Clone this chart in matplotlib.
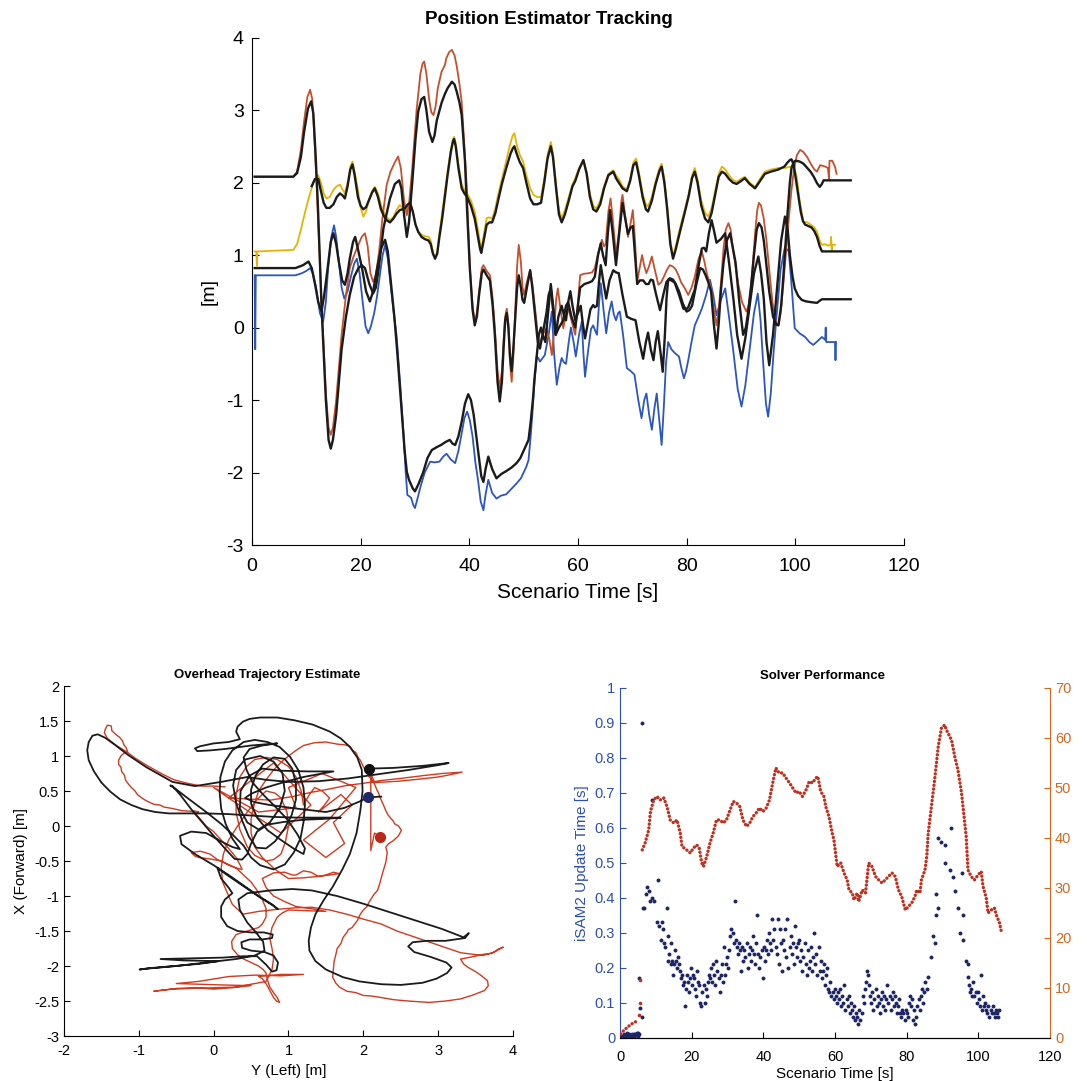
import numpy as np
import matplotlib
matplotlib.use("Agg")
import matplotlib.pyplot as plt

plt.rcParams["font.family"] = ["Liberation Sans", "DejaVu Sans"]
plt.rcParams["axes.unicode_minus"] = False

# ---------------- top panel: position tracking (t [s], value [m]) ----------------
truth_a = [(0.5, 2.08), (7.6, 2.08), (8.3, 2.15), (9.0, 2.45), (9.6, 2.85), (10.2, 3.18), (10.7, 3.28),
           (11.1, 3.15), (11.5, 2.6), (11.9, 1.97), (12.8, 0.36), (13.6, -0.9), (14.1, -1.38), (14.5, -1.48),
           (14.9, -1.38), (15.5, -1.0), (16.5, -0.10), (17.3, 0.45), (18.0, 0.82), (18.7, 0.98), (19.3, 1.09),
           (20.2, 1.25), (20.8, 1.30), (21.3, 1.12), (21.8, 0.75), (22.3, 0.63), (22.8, 0.72), (23.4, 1.05),
           (24.0, 1.5), (24.8, 1.97), (25.5, 2.15), (26.3, 2.28), (26.9, 2.36), (27.4, 2.2), (28.0, 1.75),
           (28.5, 1.55), (28.9, 1.7), (29.5, 2.2), (30.3, 3.0), (31.0, 3.5), (31.4, 3.64), (31.7, 3.67),
           (32.1, 3.5), (32.6, 3.15), (33.0, 2.97), (33.4, 2.93), (33.8, 3.05), (34.2, 3.3), (34.9, 3.53),
           (35.5, 3.62), (35.8, 3.72), (36.3, 3.8), (36.8, 3.83), (37.3, 3.75), (37.7, 3.6), (38.2, 3.35),
           (38.6, 3.11), (39.1, 2.5), (39.5, 1.97), (40.1, 0.82), (40.6, 0.3), (41.0, 0.08), (41.4, 0.2),
           (41.8, 0.5), (42.3, 0.82), (42.6, 0.86), (43.2, 0.78), (43.8, 0.72), (44.3, 0.4), (44.7, 0.0),
           (45.2, -0.6), (45.6, -0.84), (46.0, -0.6), (46.3, -0.2), (46.6, 0.15), (46.9, 0.26), (47.2, 0.05),
           (47.5, -0.5), (47.8, -0.75), (48.1, -0.4), (48.5, 0.3), (48.8, 0.85), (49.1, 1.14), (49.5, 0.9),
           (49.8, 0.55), (50.1, 0.45), (50.5, 0.6), (51.2, 0.79), (51.6, 0.6), (52.2, 0.2), (52.6, -0.1),
           (53.0, -0.24), (53.5, -0.1), (54.2, -0.01), (54.7, -0.15), (55.2, -0.38), (55.6, -0.05), (56.0, 0.4),
           (56.3, 0.54), (56.7, 0.3), (57.3, -0.01), (57.7, 0.15), (58.2, 0.26), (58.8, 0.1), (59.5, -0.10),
           (60.0, 0.35), (60.4, 0.72), (61.0, 0.74), (62.0, 0.75), (62.6, 0.76), (63.1, 0.82), (63.8, 1.05),
           (64.4, 1.21), (64.8, 1.12), (65.1, 1.15), (65.6, 1.6), (66.0, 1.78), (66.4, 1.5), (67.0, 1.00),
           (67.5, 1.3), (68.0, 1.75), (68.2, 1.83), (68.6, 1.6), (69.2, 1.25), (69.6, 1.4), (70.1, 1.62),
           (70.5, 1.2), (70.9, 0.63), (71.3, 0.8), (71.8, 1.0), (72.2, 0.85), (72.6, 0.75), (73.1, 0.85),
           (73.6, 0.98), (74.2, 0.78), (74.8, 0.59), (75.3, 0.62), (75.8, 0.7), (76.4, 0.8), (76.9, 0.86),
           (77.5, 0.84), (78.0, 0.8), (78.5, 0.72), (79.0, 0.62), (79.6, 0.55), (80.3, 0.45), (80.9, 0.55),
           (81.5, 0.7), (82.2, 0.95), (82.8, 1.05), (83.3, 0.9), (83.7, 0.75), (84.1, 0.65), (84.5, 0.55),
           (85.0, 0.25), (85.5, 0.03), (85.9, 0.25), (86.3, 0.6), (86.8, 1.09), (87.2, 1.35), (87.7, 1.44),
           (88.1, 1.35), (88.5, 1.1), (89.0, 0.85), (89.5, 0.6), (90.2, 0.35), (91.0, 0.22), (91.4, 0.3),
           (91.8, 0.5), (92.2, 0.9), (92.6, 1.3), (93.0, 1.62), (93.3, 1.72), (93.7, 1.68), (94.2, 1.5),
           (94.7, 1.2), (95.2, 0.8), (95.8, 0.35), (96.4, 0.08), (96.9, 0.03), (97.3, 0.2), (97.8, 0.6),
           (98.3, 1.05), (98.8, 1.5), (99.3, 1.9), (99.8, 2.2), (100.3, 2.38), (100.9, 2.45), (101.5, 2.42),
           (102.2, 2.35), (103.0, 2.24), (103.5, 2.18), (104.0, 2.15), (104.3, 2.2), (104.6, 2.24),
           (105.5, 2.22), (106.0, 2.2), (106.2, 2.05), (106.3, 2.3), (106.8, 2.3), (107.3, 2.22), (107.6, 2.12)]
est_a = [(0.5, 2.08), (7.6, 2.08), (8.3, 2.13), (9.0, 2.35), (9.6, 2.7), (10.3, 3.02), (10.9, 3.12),
         (11.3, 2.95), (11.7, 2.4), (12.1, 1.75), (12.8, 0.3), (13.6, -1.0), (14.1, -1.55), (14.5, -1.67),
         (14.9, -1.55), (15.5, -1.2), (16.5, -0.3), (17.3, 0.15), (18.0, 0.45), (18.8, 0.7), (19.6, 0.82),
         (20.2, 0.86), (20.8, 0.82), (21.6, 0.6), (22.3, 0.47), (22.8, 0.55), (23.3, 0.8), (24.2, 1.37),
         (25.4, 1.78), (26.3, 1.98), (27.1, 2.03), (27.5, 1.92), (28.0, 1.55), (28.5, 1.25), (28.9, 1.45),
         (29.5, 2.0), (30.1, 2.6), (30.6, 2.98), (31.2, 3.15), (31.7, 3.18), (32.1, 3.0), (32.6, 2.7),
         (33.2, 2.56), (33.6, 2.65), (34.0, 2.85), (34.9, 3.1), (35.5, 3.22), (36.0, 3.3), (36.8, 3.39),
         (37.3, 3.35), (37.7, 3.25), (38.2, 3.1), (38.6, 2.93), (39.2, 2.3), (39.6, 1.6), (40.1, 0.82),
         (40.6, 0.25), (41.0, 0.03), (41.4, 0.15), (41.8, 0.45), (42.3, 0.75), (42.6, 0.8), (43.2, 0.72),
         (43.8, 0.65), (44.3, 0.3), (44.7, -0.1), (45.2, -0.75), (45.6, -1.02), (46.0, -0.75), (46.3, -0.3),
         (46.6, 0.1), (46.9, 0.2), (47.2, 0.0), (47.5, -0.4), (47.8, -0.6), (48.1, -0.3), (48.5, 0.2),
         (48.8, 0.55), (49.1, 0.72), (49.5, 0.55), (49.8, 0.38), (50.1, 0.34), (50.6, 0.55), (51.2, 0.79),
         (51.6, 0.55), (52.2, 0.1), (52.6, -0.2), (53.0, -0.29), (53.6, -0.05), (54.2, 0.2), (54.6, 0.45),
         (55.0, 0.54), (55.4, 0.25), (55.9, -0.1), (56.5, 0.0), (57.3, 0.1), (57.8, 0.3), (58.2, 0.35),
         (58.8, 0.15), (59.5, 0.0), (60.0, 0.3), (60.4, 0.55), (61.2, 0.6), (62.0, 0.62), (62.6, 0.64),
         (63.1, 0.7), (63.7, 1.0), (64.2, 1.16), (64.6, 1.0), (65.1, 0.86), (65.5, 1.3), (65.9, 1.62),
         (66.4, 1.3), (67.0, 0.86), (67.6, 1.3), (68.2, 1.72), (68.7, 1.5), (69.2, 1.29), (69.7, 1.38),
         (70.1, 1.4), (70.5, 1.0), (70.9, 0.6), (71.4, 0.65), (72.0, 0.65), (72.5, 0.6), (73.0, 0.6),
         (73.4, 0.66), (73.8, 0.65), (74.4, 0.45), (75.1, 0.24), (75.7, 0.45), (76.3, 0.63), (76.9, 0.68),
         (77.5, 0.66), (78.0, 0.6), (78.6, 0.5), (79.3, 0.33), (80.0, 0.22), (80.5, 0.24), (81.0, 0.3),
         (81.8, 0.6), (82.5, 0.82), (83.0, 0.8), (83.5, 0.72), (84.0, 0.62), (84.5, 0.5), (85.0, 0.05),
         (85.5, -0.29), (85.9, 0.05), (86.3, 0.5), (86.8, 0.9), (87.4, 1.2), (88.0, 1.30), (88.5, 1.1),
         (89.0, 0.9), (89.7, 0.35), (90.4, -0.10), (90.9, 0.0), (91.3, 0.2), (91.9, 0.6), (92.4, 1.0),
         (92.9, 1.35), (93.3, 1.44), (93.8, 1.38), (94.2, 1.2), (94.7, 0.85), (95.2, 0.5), (95.9, 0.15),
         (96.5, 0.04), (96.9, 0.03), (97.4, 0.3), (97.8, 0.7), (98.2, 1.15), (98.6, 1.6), (99.0, 2.0),
         (99.3, 2.2), (99.7, 2.28), (100.0, 2.3), (100.8, 2.29), (101.5, 2.26), (102.2, 2.2), (102.8, 2.15),
         (103.4, 2.08), (104.0, 1.99), (104.5, 1.94), (104.9, 1.98), (105.2, 2.03), (110.2, 2.03)]

truth_b = [(0.5, 1.05), (0.8, 1.05), (0.9, 0.85), (1.0, 1.05), (7.6, 1.07), (8.3, 1.15), (9.0, 1.35),
           (9.8, 1.6), (10.5, 1.8), (11.3, 2.0), (12.2, 2.10), (12.7, 2.0), (13.2, 1.85), (13.7, 1.78),
           (14.3, 1.8), (15.0, 1.9), (15.6, 1.95), (16.2, 1.97), (16.7, 1.9), (17.1, 1.85), (17.6, 2.0),
           (18.1, 2.22), (18.5, 2.29), (18.9, 2.15), (19.5, 1.9), (20.0, 1.65), (20.5, 1.53), (21.0, 1.6),
           (21.5, 1.75), (22.1, 1.88), (22.6, 1.94), (23.2, 1.85), (23.7, 1.7), (24.2, 1.60), (24.8, 1.52),
           (25.4, 1.48), (26.0, 1.52), (26.6, 1.62), (27.2, 1.69), (27.7, 1.65), (28.2, 1.6), (28.7, 1.68),
           (29.1, 1.74), (29.6, 1.6), (30.1, 1.42), (30.6, 1.32), (31.2, 1.28), (31.8, 1.26), (32.5, 1.25),
           (32.9, 1.2), (33.3, 1.05), (33.7, 0.95), (34.1, 1.05), (34.5, 1.3), (35.0, 1.58), (35.5, 1.87),
           (36.0, 2.15), (36.6, 2.45), (37.0, 2.6), (37.2, 2.63), (37.5, 2.55), (38.0, 2.25), (38.6, 1.97),
           (39.1, 1.9), (39.6, 1.85), (40.3, 1.75), (41.0, 1.60), (41.6, 1.35), (42.0, 1.15), (42.2, 1.09),
           (42.6, 1.25), (43.2, 1.51), (43.7, 1.52), (44.2, 1.5), (44.8, 1.65), (45.3, 1.83), (46.0, 2.05),
           (46.8, 2.3), (47.6, 2.55), (48.0, 2.65), (48.3, 2.68), (48.8, 2.5), (49.3, 2.38), (49.9, 2.29),
           (50.5, 2.1), (51.2, 1.92), (51.8, 1.83), (52.5, 1.8), (53.2, 1.8), (53.8, 2.05), (54.4, 2.38),
           (55.0, 2.56), (55.4, 2.4), (56.0, 1.95), (56.5, 1.62), (57.0, 1.51), (57.6, 1.62), (58.3, 1.8),
           (59.0, 1.98), (59.5, 2.06), (60.2, 2.2), (61.0, 2.31), (61.6, 2.15), (62.2, 1.85), (62.8, 1.68),
           (63.4, 1.64), (64.1, 1.75), (64.8, 1.95), (65.6, 2.12), (66.5, 2.17), (67.0, 2.1), (67.5, 2.05),
           (68.2, 1.95), (69.0, 1.90), (69.6, 2.05), (70.2, 2.28), (70.7, 2.33), (71.2, 2.15), (71.9, 1.85),
           (72.5, 1.7), (72.9, 1.67), (73.6, 1.8), (74.3, 2.02), (75.0, 2.2), (75.4, 2.26), (75.9, 2.05),
           (76.4, 1.7), (77.0, 1.2), (77.5, 0.98), (78.0, 1.12), (78.8, 1.38), (79.7, 1.64), (80.4, 1.85),
           (81.0, 2.1), (81.5, 2.20), (82.0, 2.05), (82.7, 1.75), (83.4, 1.58), (84.0, 1.53), (84.6, 1.65),
           (85.3, 1.9), (85.9, 2.12), (86.5, 2.22), (87.1, 2.18), (87.8, 2.1), (88.5, 2.04), (89.2, 2.01),
           (90.0, 2.05), (90.7, 2.08), (91.6, 2.0), (92.6, 1.94), (93.5, 2.05), (94.4, 2.15), (95.5, 2.18),
           (96.9, 2.20), (98.0, 2.2), (99.3, 2.22), (99.9, 2.18), (100.3, 2.06), (100.8, 1.75), (101.5, 1.46),
           (102.2, 1.45), (103.0, 1.41), (103.5, 1.38), (104.0, 1.32), (104.5, 1.2), (104.9, 1.14),
           (105.5, 1.15), (106.0, 1.13), (106.5, 1.14), (106.6, 1.25), (106.7, 1.05), (106.8, 1.14),
           (107.3, 1.14)]
est_b = [(11.0, 1.95), (11.6, 2.05), (12.2, 2.05), (12.7, 1.88), (13.2, 1.72), (13.7, 1.65), (14.3, 1.65),
         (15.0, 1.7), (15.6, 1.8), (16.2, 1.85), (16.7, 1.82), (17.1, 1.78), (17.6, 1.95), (18.1, 2.18),
         (18.5, 2.25), (18.9, 2.1), (19.5, 1.8), (20.0, 1.68), (20.5, 1.63), (21.0, 1.66), (21.5, 1.75),
         (22.1, 1.86), (22.6, 1.92), (23.2, 1.8), (23.7, 1.64), (24.2, 1.55), (24.8, 1.48), (25.4, 1.45),
         (26.0, 1.5), (26.6, 1.57), (27.2, 1.62), (27.7, 1.63), (28.2, 1.65), (28.7, 1.7), (29.1, 1.72),
         (29.6, 1.6), (30.1, 1.42), (30.6, 1.32), (31.2, 1.25), (31.8, 1.22), (32.5, 1.2), (32.9, 1.15),
         (33.3, 1.02), (33.7, 0.95), (34.1, 1.02), (34.5, 1.25), (35.0, 1.5), (35.5, 1.8), (36.0, 2.1),
         (36.6, 2.42), (37.0, 2.57), (37.2, 2.6), (37.5, 2.5), (38.0, 2.2), (38.6, 1.92), (39.1, 1.85),
         (39.6, 1.8), (40.3, 1.68), (41.0, 1.5), (41.6, 1.25), (42.0, 1.08), (42.2, 1.03), (42.6, 1.18),
         (43.2, 1.42), (43.7, 1.45), (44.2, 1.45), (44.8, 1.58), (45.3, 1.75), (46.0, 1.98), (46.8, 2.2),
         (47.6, 2.4), (48.0, 2.47), (48.3, 2.5), (48.8, 2.38), (49.3, 2.28), (49.9, 2.2), (50.5, 2.0),
         (51.2, 1.78), (51.8, 1.7), (52.5, 1.7), (53.2, 1.72), (53.8, 2.0), (54.4, 2.33), (55.0, 2.5),
         (55.4, 2.35), (56.0, 1.9), (56.5, 1.56), (57.0, 1.45), (57.6, 1.56), (58.3, 1.75), (59.0, 1.95),
         (59.5, 2.02), (60.2, 2.18), (61.0, 2.31), (61.6, 2.12), (62.2, 1.8), (62.8, 1.63), (63.4, 1.6),
         (64.1, 1.7), (64.8, 1.92), (65.6, 2.1), (66.5, 2.15), (67.0, 2.06), (67.5, 2.0), (68.2, 1.92),
         (69.0, 1.88), (69.6, 2.02), (70.2, 2.24), (70.7, 2.28), (71.2, 2.1), (71.9, 1.8), (72.5, 1.63),
         (72.9, 1.6), (73.6, 1.75), (74.3, 1.98), (75.0, 2.16), (75.4, 2.22), (75.9, 2.0), (76.4, 1.65),
         (77.0, 1.15), (77.5, 0.95), (78.0, 1.08), (78.8, 1.33), (79.7, 1.6), (80.4, 1.82), (81.0, 2.06),
         (81.5, 2.15), (82.0, 2.0), (82.7, 1.68), (83.4, 1.5), (84.0, 1.45), (84.6, 1.58), (85.3, 1.85),
         (85.9, 2.08), (86.5, 2.15), (87.1, 2.12), (87.8, 2.05), (88.5, 2.0), (89.2, 1.98), (90.0, 2.02),
         (90.7, 2.06), (91.6, 1.98), (92.6, 1.92), (93.5, 2.02), (94.4, 2.12), (95.5, 2.15), (96.9, 2.18),
         (98.0, 2.22), (98.5, 2.27), (99.0, 2.31), (99.3, 2.32), (99.7, 2.25), (100.0, 2.1), (100.5, 1.85),
         (101.0, 1.6), (101.4, 1.47), (101.8, 1.42), (102.4, 1.4), (103.0, 1.38), (103.5, 1.33),
         (104.0, 1.25), (104.5, 1.12), (104.9, 1.05), (110.2, 1.05)]

truth_c = [(0.5, 0.72), (0.6, -0.3), (0.7, 0.72), (8.0, 0.72), (9.2, 0.75), (10.0, 0.78), (10.7, 0.82),
           (11.2, 0.75), (11.8, 0.55), (12.5, 0.2), (13.1, 0.08), (13.6, 0.35), (14.0, 0.8), (14.6, 1.25),
           (15.1, 1.41), (15.5, 1.25), (16.0, 0.9), (16.5, 0.55), (17.0, 0.40), (17.6, 0.5), (18.2, 0.7),
           (18.8, 0.88), (19.3, 0.95), (19.8, 0.75), (20.3, 0.4), (20.9, 0.02), (21.4, -0.08), (21.9, 0.02),
           (22.5, 0.2), (23.0, 0.42), (23.5, 0.7), (24.0, 0.98), (24.5, 1.14), (25.0, 0.95), (25.5, 0.6),
           (26.1, 0.2), (26.6, -0.10), (27.3, -0.8), (27.9, -1.48), (28.3, -2.0), (28.6, -2.31), (29.0, -2.33),
           (29.3, -2.35), (29.7, -2.45), (30.0, -2.49), (30.5, -2.35), (31.0, -2.2), (31.8, -2.0),
           (32.8, -1.85), (33.6, -1.86), (34.5, -1.85), (35.2, -1.78), (35.8, -1.74), (36.6, -1.82),
           (37.4, -1.87), (38.0, -1.7), (38.5, -1.5), (39.1, -1.25), (39.6, -1.16), (40.1, -1.28),
           (40.6, -1.5), (41.1, -1.85), (41.6, -2.1), (42.1, -2.4), (42.6, -2.52), (43.0, -2.3), (43.5, -2.10),
           (44.2, -2.28), (45.0, -2.36), (45.8, -2.32), (46.8, -2.3), (47.8, -2.22), (48.7, -2.15),
           (49.5, -2.08), (50.0, -2.0), (50.5, -1.92), (50.9, -1.83), (51.3, -1.5), (51.6, -1.2), (52.0, -0.75),
           (52.4, -0.40), (52.7, -0.42), (53.0, -0.47), (53.5, -0.42), (53.9, -0.38), (54.6, -0.1), (55.2, 0.22),
           (55.6, -0.35), (56.1, -0.79), (56.6, -0.55), (57.0, -0.42), (57.4, -0.48), (57.8, -0.5), (58.3, -0.2),
           (58.7, 0.0), (59.2, -0.2), (59.6, -0.4), (60.2, -0.1), (60.7, 0.08), (61.0, -0.35), (61.3, -0.68),
           (61.9, -0.3), (62.4, -0.02), (62.8, 0.03), (63.2, -0.05), (63.5, -0.1), (63.9, 0.35), (64.2, 0.61),
           (64.7, 0.25), (65.2, -0.08), (65.7, 0.2), (66.2, 0.36), (66.6, 0.18), (67.0, 0.1), (67.4, 0.2),
           (67.7, 0.22), (68.3, -0.1), (69.0, -0.56), (69.7, -0.6), (70.4, -0.65), (71.1, -1.0), (71.7, -1.25),
           (72.2, -1.0), (72.6, -0.91), (73.1, -1.2), (73.6, -1.41), (74.1, -1.1), (74.5, -0.91), (75.0, -1.3),
           (75.4, -1.62), (75.8, -1.1), (76.2, -0.5), (76.6, -0.20), (77.2, -0.3), (77.8, -0.35), (78.6, -0.4),
           (79.0, -0.55), (79.5, -0.70), (79.9, -0.6), (80.3, -0.45), (80.9, -0.2), (81.5, 0.03), (82.2, 0.15),
           (82.8, 0.26), (83.6, 0.45), (84.3, 0.66), (84.9, 0.45), (85.5, 0.17), (86.3, 0.38), (87.1, 0.54),
           (87.8, 0.15), (88.6, -0.33), (89.4, -0.85), (90.1, -1.09), (90.8, -0.8), (91.6, -0.3), (92.4, 0.2),
           (93.1, 0.47), (93.6, 0.1), (94.1, -0.5), (94.6, -1.05), (95.0, -1.23), (95.5, -0.9), (96.0, -0.35),
           (96.6, 0.2), (97.3, 0.8), (98.1, 1.11), (98.8, 1.05), (99.3, 0.6), (99.9, -0.01), (100.8, -0.08),
           (101.8, -0.13), (102.6, -0.2), (103.3, -0.24), (104.2, -0.18), (104.9, -0.13), (105.5, -0.17),
           (105.6, 0.0), (105.7, -0.2), (106.5, -0.2), (107.3, -0.2), (107.4, -0.45), (107.5, -0.2)]
est_c = [(0.5, 0.82), (8.0, 0.82), (9.4, 0.86), (10.4, 0.91), (11.0, 0.82), (11.6, 0.6), (12.2, 0.35),
         (12.8, 0.22), (13.3, 0.45), (13.9, 0.8), (14.5, 1.18), (15.0, 1.30), (15.5, 1.15), (16.0, 0.9),
         (16.6, 0.65), (17.1, 0.59), (17.6, 0.75), (18.0, 0.95), (18.6, 1.18), (19.0, 1.25), (19.6, 1.05),
         (20.3, 0.8), (21.0, 0.5), (21.7, 0.36), (22.3, 0.5), (23.0, 0.8), (23.8, 1.1), (24.5, 1.21),
         (25.0, 1.05), (25.6, 0.6), (26.2, 0.15), (26.7, -0.3), (27.2, -0.8), (27.6, -1.2), (28.1, -1.7),
         (28.5, -1.99), (28.9, -2.1), (29.2, -2.15), (29.6, -2.22), (30.0, -2.26), (30.7, -2.15),
         (31.5, -2.0), (32.3, -1.8), (33.1, -1.69), (34.0, -1.65), (34.8, -1.62), (35.6, -1.58),
         (36.4, -1.55), (36.9, -1.6), (37.4, -1.62), (38.0, -1.5), (38.6, -1.3), (39.2, -1.05), (39.8, -0.92),
         (40.3, -1.0), (40.8, -1.2), (41.3, -1.5), (41.8, -1.8), (42.2, -2.05), (42.6, -2.13), (43.0, -1.95),
         (43.5, -1.78), (44.2, -1.95), (45.0, -2.08), (45.9, -2.02), (46.8, -1.98), (47.8, -1.93),
         (48.7, -1.87), (49.4, -1.8), (50.0, -1.7), (50.5, -1.62), (50.9, -1.55), (51.3, -1.3), (51.7, -1.0),
         (52.0, -0.7), (52.4, -0.40), (52.8, -0.1), (53.2, 0.0), (53.6, -0.12), (54.0, -0.2), (54.5, 0.2),
         (55.0, 0.6), (55.5, 0.25), (55.9, -0.1), (56.4, 0.15), (57.0, 0.3), (57.4, 0.18), (57.8, 0.1),
         (58.2, 0.35), (58.6, 0.5), (59.0, 0.3), (59.5, 0.1), (60.0, 0.2), (60.5, 0.3), (60.9, 0.05),
         (61.3, -0.15), (61.8, 0.05), (62.3, 0.25), (62.8, 0.31), (63.1, 0.28), (63.5, 0.3), (63.9, 0.65),
         (64.2, 0.86), (64.7, 0.62), (65.2, 0.40), (65.8, 0.65), (66.5, 0.79), (67.0, 0.76), (67.5, 0.75),
         (68.2, 0.45), (69.0, 0.15), (69.8, 0.12), (70.6, 0.1), (71.3, -0.2), (72.0, -0.43), (72.5, -0.2),
         (72.9, -0.07), (73.4, -0.3), (73.9, -0.45), (74.3, -0.2), (74.7, -0.05), (75.2, -0.35), (75.6, -0.61),
         (76.0, -0.1), (76.3, 0.4), (76.6, 0.66), (77.2, 0.65), (77.8, 0.62), (78.6, 0.45), (79.4, 0.26),
         (79.9, 0.25), (80.3, 0.28), (80.9, 0.4), (81.5, 0.52), (82.2, 0.85), (82.8, 1.09), (83.2, 1.1),
         (83.6, 1.05), (84.1, 1.3), (84.6, 1.48), (85.0, 1.35), (85.5, 1.17), (86.3, 1.22), (87.1, 1.30),
         (87.8, 0.9), (88.6, 0.40), (89.3, -0.1), (90.1, -0.43), (90.8, -0.15), (91.6, 0.3), (92.4, 0.75),
         (93.2, 0.98), (93.7, 0.75), (94.2, 0.4), (94.7, -0.2), (95.2, -0.52), (95.9, -0.1), (96.7, 0.6),
         (97.4, 1.2), (98.1, 1.53), (98.6, 1.35), (99.0, 1.0), (99.5, 0.7), (99.9, 0.54), (100.5, 0.44),
         (101.2, 0.38), (102.0, 0.36), (102.9, 0.35), (104.0, 0.34), (104.5, 0.37), (104.9, 0.39), (110.2, 0.39)]

# ---------------- bottom-left: overhead trajectory (Y left, X forward) ----------------
traj_est = [(2.08, 0.82), (2.4, 0.83), (2.8, 0.86), (3.14, 0.90), (3.0, 0.87), (2.6, 0.80), (2.2, 0.74),
            (1.8, 0.68), (1.4, 0.64), (1.0, 0.63), (0.7, 0.66), (0.45, 0.70), (0.10, 0.63), (-0.25, 0.57),
            (-0.55, 0.63), (-0.90, 0.84), (-1.15, 1.02), (-1.32, 1.16), (-1.45, 1.26), (-1.55, 1.31),
            (-1.62, 1.29), (-1.67, 1.20), (-1.69, 1.08), (-1.67, 0.94), (-1.60, 0.78), (-1.50, 0.62),
            (-1.38, 0.49), (-1.25, 0.38), (-1.10, 0.30), (-0.95, 0.24), (-0.78, 0.20), (-0.60, 0.18),
            (-0.35, 0.18), (-0.10, 0.18), (0.20, 0.17), (0.50, 0.15), (0.80, 0.13), (1.10, 0.12), (1.40, 0.12),
            (1.70, 0.12), (1.45, 0.10), (1.20, 0.09), (0.95, 0.06), (0.72, 0.02), (0.58, -0.08), (0.50, -0.25),
            (0.45, -0.40), (0.38, -0.48), (0.28, -0.47), (0.15, -0.32), (0.00, -0.14), (-0.15, 0.05),
            (-0.30, 0.24), (-0.45, 0.45), (-0.55, 0.57), (-0.58, 0.58), (-0.52, 0.54), (-0.35, 0.40),
            (-0.10, 0.20), (0.10, 0.03), (0.25, -0.12), (0.40, -0.28), (0.50, -0.45), (0.62, -0.56),
            (0.80, -0.62), (0.95, -0.55), (1.07, -0.38), (1.16, -0.18), (1.20, 0.05), (1.22, 0.30), (1.20, 0.55),
            (1.13, 0.80), (1.02, 0.99), (0.88, 1.13), (0.72, 1.20), (0.55, 1.23), (0.40, 1.20), (0.25, 1.08),
            (0.15, 0.92), (0.09, 0.70), (0.08, 0.48), (0.10, 0.25), (0.16, 0.03), (0.25, -0.18), (0.35, -0.33),
            (0.25, -0.30), (0.10, -0.22), (-0.10, -0.10), (-0.30, -0.08), (-0.45, -0.14), (-0.43, -0.26),
            (-0.25, -0.40), (0.00, -0.56), (0.20, -0.70), (0.40, -0.85), (0.60, -1.00), (0.78, -1.12),
            (0.86, -1.19), (0.80, -1.14), (0.62, -1.02), (0.40, -0.86), (0.18, -0.70), (0.05, -0.60),
            (0.10, -0.75), (0.20, -0.88), (0.25, -0.96), (0.15, -1.05), (0.10, -1.15), (0.10, -1.30),
            (0.18, -1.43), (0.32, -1.50), (0.50, -1.52), (0.67, -1.52), (0.79, -1.55), (0.78, -1.60),
            (0.65, -1.62), (0.48, -1.62), (0.37, -1.66), (0.38, -1.74), (0.50, -1.78), (0.68, -1.80),
            (0.80, -1.85), (0.86, -1.95), (0.84, -2.06), (0.78, -2.08), (0.70, -1.98), (0.58, -1.86),
            (0.40, -1.86), (0.12, -1.88), (-0.30, -1.89), (-0.71, -1.90), (-0.40, -1.92), (0.07, -1.93),
            (-0.20, -1.97), (-0.53, -2.00), (-0.85, -2.03), (-0.99, -2.05), (-0.92, -2.04), (-0.50, -2.00),
            (-0.10, -1.95), (0.30, -1.90), (0.55, -1.85), (0.68, -1.78), (0.66, -1.65), (0.55, -1.50),
            (0.45, -1.38), (0.35, -1.20), (0.33, -1.05), (0.45, -0.96), (0.76, -0.92), (1.05, -0.90),
            (1.31, -0.92), (1.65, -1.0), (2.00, -1.11), (2.35, -1.23), (2.70, -1.35), (3.05, -1.47),
            (3.34, -1.59), (3.41, -1.53), (3.36, -1.60), (3.10, -1.64), (2.85, -1.64), (2.66, -1.66),
            (2.60, -1.72), (2.68, -1.80), (2.90, -1.87), (3.11, -1.95), (3.18, -2.02), (3.12, -2.10),
            (2.98, -2.18), (2.79, -2.24), (2.50, -2.27), (2.24, -2.26), (1.95, -2.22), (1.73, -2.16),
            (1.50, -2.05), (1.36, -1.93), (1.28, -1.78), (1.27, -1.64), (1.30, -1.45), (1.36, -1.26),
            (1.47, -1.06), (1.59, -0.87), (1.72, -0.62), (1.82, -0.40), (1.91, -0.10), (1.96, 0.22),
            (1.99, 0.50), (1.98, 0.80), (1.92, 0.98), (1.82, 1.13), (1.70, 1.25), (1.55, 1.35), (1.32, 1.45),
            (1.08, 1.51), (0.85, 1.55), (0.62, 1.55), (0.48, 1.53), (0.39, 1.49), (0.32, 1.42), (0.30, 1.35),
            (0.35, 1.24), (0.20, 1.20), (0.00, 1.18), (-0.18, 1.14), (-0.25, 1.11), (-0.22, 1.07),
            (-0.05, 1.08), (0.15, 1.10), (0.50, 1.15), (0.85, 1.18), (0.65, 1.15), (0.48, 1.10), (0.40, 0.98),
            (0.44, 0.80), (0.52, 0.62), (0.66, 0.45), (0.82, 0.28), (0.98, 0.10), (1.12, -0.12), (1.22, -0.32),
            (1.20, -0.40), (1.08, -0.33), (0.90, -0.20), (0.72, -0.06), (0.58, 0.12), (0.50, 0.32), (0.50, 0.52),
            (0.56, 0.72), (0.66, 0.88), (0.80, 0.98), (0.95, 0.96), (1.05, 0.82), (1.10, 0.60), (1.10, 0.38),
            (1.04, 0.15), (0.94, -0.05), (0.82, -0.22), (0.70, -0.32), (0.57, -0.31), (0.47, -0.15),
            (0.38, 0.08), (0.30, 0.33), (0.26, 0.58), (0.30, 0.80), (0.42, 0.95), (0.62, 1.00), (0.80, 0.92),
            (0.92, 0.75), (0.95, 0.50), (0.88, 0.25), (0.75, 0.05), (0.60, -0.05), (0.45, 0.05), (0.35, 0.25),
            (0.36, 0.50), (0.48, 0.72), (0.65, 0.82), (0.90, 0.79), (1.25, 0.78), (1.60, 0.78), (1.40, 0.74),
            (1.20, 0.70), (0.95, 0.63), (0.70, 0.55), (0.50, 0.46), (0.42, 0.40), (0.55, 0.34), (0.75, 0.30),
            (1.10, 0.25), (1.50, 0.20), (1.75, 0.26), (1.95, 0.35), (2.06, 0.41), (2.24, 0.42)]

traj_truth = [(0.15, 0.56), (0.0, 0.57), (-0.16, 0.57), (-0.35, 0.61), (-0.53, 0.66), (-0.70, 0.75),
              (-0.90, 0.87), (-1.05, 0.97), (-1.15, 1.05), (-1.30, 1.15), (-1.42, 1.25), (-1.46, 1.33),
              (-1.45, 1.38), (-1.42, 1.44), (-1.37, 1.43), (-1.36, 1.36), (-1.33, 1.33), (-1.30, 1.30),
              (-1.26, 1.27), (-1.22, 1.22), (-1.20, 1.16), (-1.17, 1.12), (-1.15, 1.06), (-1.20, 1.04),
              (-1.24, 1.00), (-1.27, 0.94), (-1.27, 0.88), (-1.24, 0.84), (-1.23, 0.78), (-1.19, 0.72),
              (-1.18, 0.66), (-1.14, 0.60), (-1.10, 0.55), (-1.05, 0.50), (-1.02, 0.45), (-0.96, 0.40),
              (-0.90, 0.36), (-0.80, 0.31), (-0.72, 0.30), (-0.66, 0.27), (-0.55, 0.25), (-0.43, 0.22),
              (-0.30, 0.21), (-0.20, 0.20), (-0.28, 0.22), (-0.18, 0.10), (-0.10, 0.00), (0.00, -0.08),
              (0.10, -0.20), (0.20, -0.32), (0.30, -0.45), (0.35, -0.55), (0.38, -0.62), (0.30, -0.60),
              (0.20, -0.55), (0.05, -0.48), (-0.05, -0.40), (-0.18, -0.36), (-0.30, -0.38), (-0.25, -0.43),
              (-0.20, -0.45), (-0.05, -0.47), (0.10, -0.50), (0.20, -0.56), (0.30, -0.60), (0.40, -0.70),
              (0.50, -0.80), (0.58, -0.92), (0.65, -1.05), (0.70, -1.18), (0.70, -1.30), (0.65, -1.40),
              (0.60, -1.45), (0.45, -1.50), (0.30, -1.55), (0.24, -1.65), (0.25, -1.75), (0.32, -1.84),
              (0.40, -1.90), (0.50, -1.95), (0.60, -2.00), (0.66, -2.05), (0.70, -2.10), (0.72, -2.20),
              (0.75, -2.30), (0.80, -2.38), (0.85, -2.45), (0.88, -2.52), (0.84, -2.50), (0.80, -2.45),
              (0.75, -2.35), (0.70, -2.25), (0.65, -2.18), (0.60, -2.15), (0.90, -2.12), (1.20, -2.12),
              (0.90, -2.14), (0.55, -2.13), (0.20, -2.15), (-0.20, -2.22), (-0.50, -2.25), (-0.20, -2.26),
              (0.10, -2.27), (0.50, -2.28), (0.25, -2.31), (0.00, -2.33), (-0.25, -2.31), (-0.50, -2.32),
              (-0.65, -2.34), (-0.80, -2.36), (-0.55, -2.33), (-0.30, -2.32), (0.00, -2.31), (0.30, -2.30),
              (0.50, -2.26), (0.70, -2.22), (0.78, -2.05), (0.80, -1.90), (0.78, -1.75), (0.75, -1.60),
              (0.78, -1.45), (0.85, -1.30), (0.92, -1.24), (1.00, -1.20), (1.25, -1.21), (1.50, -1.22),
              (1.30, -1.18), (1.10, -1.15), (0.95, -1.08), (0.80, -1.00), (0.70, -0.88), (0.65, -0.75),
              (0.80, -0.67), (0.95, -0.66), (1.05, -0.70), (1.10, -0.70), (1.20, -0.64), (1.30, -0.66),
              (1.40, -0.72), (1.50, -0.70), (1.60, -0.66), (1.68, -0.68), (1.55, -0.70), (1.40, -0.72),
              (1.20, -0.74), (1.00, -0.75), (0.90, -0.68), (0.80, -0.60), (0.65, -0.45), (0.55, -0.30),
              (0.50, -0.10), (0.50, 0.10), (0.54, 0.30), (0.60, 0.50), (0.70, 0.66), (0.80, 0.80), (0.90, 0.91),
              (1.00, 1.00), (1.10, 1.08), (1.20, 1.15), (1.35, 1.19), (1.50, 1.20), (1.65, 1.17), (1.75, 1.16),
              (1.82, 1.14), (1.86, 1.08), (1.90, 1.05), (1.93, 0.98), (1.96, 0.94), (2.00, 0.85), (2.05, 0.75),
              (2.08, 0.70), (2.10, 0.68), (2.13, 0.63), (2.15, 0.60), (2.18, 0.52), (2.20, 0.48), (2.22, 0.42),
              (2.24, 0.37), (2.27, 0.30), (2.30, 0.22), (2.33, 0.16), (2.36, 0.12), (2.40, 0.07), (2.42, 0.03),
              (2.47, 0.00), (2.51, -0.06), (2.47, -0.14), (2.40, -0.21), (2.34, -0.25), (2.30, -0.30),
              (2.32, -0.38), (2.31, -0.45), (2.30, -0.52), (2.28, -0.59), (2.25, -0.70), (2.22, -0.82),
              (2.19, -0.92), (2.14, -0.98), (2.10, -1.05), (2.07, -1.10), (2.05, -1.15), (2.00, -1.20),
              (1.96, -1.26), (1.92, -1.35), (1.85, -1.45), (1.80, -1.48), (1.78, -1.52), (1.73, -1.59),
              (1.70, -1.68), (1.65, -1.75), (1.63, -1.85), (1.61, -1.93), (1.60, -2.05), (1.59, -2.16),
              (1.63, -2.24), (1.68, -2.30), (1.73, -2.33), (1.78, -2.36), (1.90, -2.38), (2.00, -2.42),
              (2.12, -2.43), (2.24, -2.45), (2.40, -2.48), (2.60, -2.50), (2.75, -2.51), (2.88, -2.52),
              (3.10, -2.50), (3.30, -2.47), (3.45, -2.42), (3.62, -2.35), (3.67, -2.28), (3.66, -2.21),
              (3.58, -2.14), (3.50, -2.08), (3.40, -2.02), (3.34, -1.97), (3.30, -1.90), (3.45, -1.87),
              (3.62, -1.83), (3.72, -1.82), (3.80, -1.76), (3.87, -1.73), (3.75, -1.80), (3.60, -1.85),
              (3.45, -1.83), (3.30, -1.81), (3.00, -1.70), (2.70, -1.59), (2.45, -1.50), (2.24, -1.40),
              (2.00, -1.33), (1.78, -1.26), (1.55, -1.20), (1.31, -1.16), (1.08, -1.17), (0.85, -1.19),
              (0.60, -1.22), (0.39, -1.26), (0.25, -1.12), (0.20, -1.00), (0.12, -0.80), (0.10, -0.60),
              (0.13, -0.40), (0.20, -0.20), (0.32, 0.00), (0.45, 0.20), (0.58, 0.38), (0.70, 0.50), (0.82, 0.47),
              (0.90, 0.40), (0.98, 0.20), (1.00, 0.00), (0.96, -0.22), (0.90, -0.40), (0.80, -0.48),
              (0.70, -0.50), (0.55, -0.42), (0.45, -0.30), (0.35, -0.05), (0.30, 0.20), (0.30, 0.45),
              (0.35, 0.70), (0.44, 0.85), (0.55, 0.95), (0.70, 0.98), (0.85, 0.95), (1.00, 0.85), (1.10, 0.70),
              (1.17, 0.50), (1.20, 0.30), (1.28, 0.45), (1.35, 0.55), (1.45, 0.50), (1.55, 0.40), (1.48, 0.30),
              (1.40, 0.20), (1.70, 0.45), (1.85, 0.30), (1.60, 0.05), (1.75, -0.25), (1.50, -0.45),
              (1.20, -0.20), (1.55, 0.10), (1.90, 0.55), (1.45, 0.75), (1.00, 0.55), (1.10, 0.26), (0.60, 0.20),
              (0.00, 0.55), (0.20, 0.40), (0.90, -0.10), (1.30, 0.30), (0.80, 0.90), (0.20, 0.40), (0.76, 0.37),
              (1.05, 0.42), (1.30, 0.48), (1.55, 0.53), (1.78, 0.58), (2.00, 0.61), (2.24, 0.65), (2.50, 0.68),
              (2.80, 0.72), (3.05, 0.75), (3.32, 0.77), (3.15, 0.73), (3.00, 0.70), (2.75, 0.67), (2.47, 0.64),
              (2.30, 0.63), (2.15, 0.62), (2.10, 0.75), (2.10, 0.55), (2.10, 0.40), (2.10, 0.20), (2.10, 0.00),
              (2.10, -0.20), (2.10, -0.35), (2.15, -0.10), (2.22, -0.15)]

start_est = (2.08, 0.82)
start_mid = (2.06, 0.41)
start_truth = (2.22, -0.15)

# ---------------- bottom-right: solver performance ----------------
update_time = [(0.3, 0.003), (0.6, 0.005), (0.9, 0.004), (1.0, 0.012), (1.2, 0.006), (1.5, 0.008),
               (1.8, 0.005), (2.0, 0.015), (2.1, 0.007), (2.4, 0.010), (2.7, 0.006), (3.0, 0.009),
               (3.0, 0.003), (3.3, 0.011), (3.6, 0.008), (3.9, 0.010), (4.0, 0.004), (4.2, 0.012),
               (4.5, 0.009), (4.8, 0.013), (5.0, 0.005), (5.1, 0.015), (5.4, 0.010), (5.3, 0.17), (5.6, 0.085),
               (6.0, 0.90), (6.1, 0.06), (6.4, 0.37), (6.7, 0.37), (7.2, 0.41), (7.6, 0.43), (8.0, 0.42),
               (8.4, 0.39), (8.8, 0.40), (9.0, 0.68), (9.5, 0.39), (10.2, 0.33), (10.6, 0.45), (11.0, 0.32),
               (11.3, 0.28), (11.6, 0.33), (12.0, 0.31), (12.3, 0.27), (12.6, 0.26), (13.0, 0.37), (13.3, 0.22),
               (13.5, 0.29), (13.8, 0.24), (14.1, 0.21), (14.3, 0.27), (14.6, 0.22), (14.9, 0.18), (15.1, 0.21),
               (15.4, 0.25), (15.6, 0.22), (15.9, 0.20), (16.2, 0.23), (16.5, 0.21), (16.8, 0.19), (17.0, 0.17),
               (17.3, 0.18), (17.6, 0.15), (17.9, 0.16), (18.1, 0.09), (18.3, 0.14), (18.6, 0.18), (18.9, 0.16),
               (19.2, 0.13), (19.5, 0.17), (19.8, 0.20), (20.0, 0.15), (20.3, 0.18), (20.6, 0.17), (20.9, 0.14),
               (21.2, 0.12), (21.5, 0.19), (21.8, 0.16), (22.1, 0.15), (22.4, 0.10), (22.7, 0.09), (23.0, 0.13),
               (23.3, 0.15), (23.6, 0.10), (23.9, 0.14), (24.2, 0.12), (24.5, 0.16), (24.8, 0.18), (25.1, 0.17),
               (25.4, 0.20), (25.7, 0.16), (26.0, 0.21), (26.3, 0.18), (26.6, 0.15), (26.9, 0.22), (27.2, 0.19),
               (27.5, 0.17), (27.8, 0.13), (28.1, 0.18), (28.4, 0.21), (28.7, 0.16), (29.0, 0.26), (29.3, 0.18),
               (29.6, 0.21), (29.9, 0.23), (30.2, 0.20), (30.5, 0.25), (30.8, 0.29), (31.1, 0.31), (31.4, 0.30),
               (31.7, 0.27), (32.0, 0.39), (32.3, 0.28), (32.6, 0.26), (32.9, 0.24), (33.2, 0.27), (33.5, 0.25),
               (33.8, 0.19), (34.1, 0.26), (34.4, 0.22), (34.7, 0.25), (35.0, 0.23), (35.3, 0.27), (35.6, 0.20),
               (35.9, 0.24), (36.2, 0.26), (36.5, 0.22), (36.8, 0.25), (37.1, 0.29), (37.4, 0.24), (37.7, 0.21),
               (38.0, 0.27), (38.3, 0.35), (38.6, 0.24), (38.9, 0.20), (39.2, 0.23), (39.5, 0.25), (39.8, 0.17),
               (40.1, 0.26), (40.4, 0.22), (40.7, 0.25), (41.0, 0.28), (41.3, 0.24), (41.6, 0.30), (41.9, 0.27),
               (42.2, 0.25), (42.5, 0.34), (42.8, 0.28), (43.1, 0.31), (43.4, 0.26), (43.7, 0.24), (44.0, 0.34),
               (44.3, 0.21), (44.6, 0.31), (44.9, 0.27), (45.2, 0.19), (45.5, 0.28), (45.8, 0.25), (46.1, 0.31),
               (46.4, 0.23), (46.7, 0.34), (47.0, 0.20), (47.3, 0.26), (47.6, 0.29), (47.9, 0.24), (48.2, 0.27),
               (48.5, 0.21), (48.8, 0.32), (49.1, 0.26), (49.4, 0.23), (49.7, 0.27), (50.0, 0.28), (50.3, 0.22),
               (50.6, 0.25), (50.9, 0.19), (51.2, 0.23), (51.5, 0.27), (51.8, 0.21), (52.1, 0.18), (52.4, 0.25),
               (52.7, 0.20), (53.0, 0.22), (53.3, 0.26), (53.6, 0.19), (53.9, 0.23), (54.2, 0.30), (54.5, 0.21),
               (54.8, 0.24), (55.1, 0.18), (55.4, 0.26), (55.7, 0.19), (56.0, 0.22), (56.3, 0.17), (56.6, 0.19),
               (56.9, 0.21), (57.2, 0.15), (57.5, 0.18), (57.8, 0.20), (58.1, 0.14), (58.4, 0.13), (58.7, 0.16),
               (59.0, 0.12), (59.3, 0.13), (59.6, 0.11), (59.9, 0.14), (60.2, 0.12), (60.5, 0.10), (60.8, 0.13),
               (61.1, 0.11), (61.4, 0.14), (61.7, 0.09), (62.0, 0.12), (62.3, 0.10), (62.6, 0.15), (62.9, 0.08),
               (63.2, 0.11), (63.5, 0.09), (63.8, 0.12), (64.1, 0.07), (64.4, 0.10), (64.7, 0.08), (65.0, 0.06),
               (65.3, 0.09), (65.6, 0.05), (65.9, 0.07), (66.2, 0.06), (66.5, 0.04), (66.8, 0.08), (67.1, 0.05),
               (67.4, 0.07), (67.7, 0.12), (68.0, 0.10), (68.3, 0.14), (68.6, 0.16), (68.9, 0.19), (69.2, 0.18),
               (69.5, 0.15), (69.8, 0.12), (70.1, 0.10), (70.4, 0.13), (70.7, 0.08), (71.0, 0.11), (71.3, 0.14),
               (71.6, 0.09), (71.9, 0.12), (72.2, 0.10), (72.5, 0.07), (72.8, 0.11), (73.1, 0.13), (73.4, 0.09),
               (73.7, 0.12), (74.0, 0.08), (74.3, 0.11), (74.6, 0.15), (74.9, 0.10), (75.2, 0.12), (75.5, 0.08),
               (75.8, 0.11), (76.1, 0.13), (76.4, 0.09), (76.7, 0.12), (77.0, 0.10), (77.3, 0.07), (77.6, 0.09),
               (77.9, 0.11), (78.2, 0.07), (78.5, 0.06), (78.8, 0.08), (79.1, 0.07), (79.4, 0.05), (79.7, 0.08),
               (80.0, 0.07), (80.3, 0.06), (80.6, 0.10), (80.9, 0.12), (81.2, 0.09), (81.5, 0.11), (81.8, 0.05),
               (82.1, 0.08), (82.4, 0.04), (82.7, 0.06), (83.0, 0.09), (83.3, 0.11), (83.6, 0.08), (83.9, 0.12),
               (84.2, 0.14), (84.5, 0.10), (84.8, 0.13), (85.1, 0.16), (85.6, 0.14), (86.0, 0.175), (86.9, 0.23),
               (87.4, 0.29), (87.8, 0.27), (88.3, 0.35), (88.3, 0.41), (88.8, 0.37), (88.8, 0.57), (89.7, 0.56),
               (90.6, 0.50), (90.8, 0.55), (92.0, 0.48), (92.5, 0.60), (92.9, 0.46), (93.4, 0.42), (94.3, 0.37),
               (94.8, 0.30), (95.3, 0.47), (95.7, 0.35), (95.7, 0.28), (96.6, 0.22), (97.0, 0.21), (97.1, 0.175),
               (97.4, 0.15), (97.7, 0.13), (98.0, 0.14), (98.3, 0.12), (98.6, 0.16), (98.9, 0.12), (99.2, 0.13),
               (99.5, 0.10), (99.8, 0.13), (100.1, 0.11), (100.4, 0.09), (100.8, 0.18), (101.0, 0.08),
               (101.3, 0.12), (101.6, 0.09), (101.9, 0.10), (102.2, 0.08), (102.5, 0.07), (102.8, 0.09),
               (103.1, 0.06), (103.4, 0.08), (103.7, 0.07), (104.0, 0.09), (104.3, 0.07), (104.6, 0.06),
               (104.9, 0.08), (105.2, 0.07), (105.5, 0.06), (105.8, 0.08)]

factor_start = [(0.2, 0.8), (0.5, 1.0), (1.0, 1.5), (1.5, 1.8), (2.0, 2.1), (2.5, 2.4), (3.0, 2.7),
                (3.5, 2.9), (4.0, 3.1), (4.5, 3.3), (5.0, 3.5)]
factor_jump = [(5.3, 4.5), (5.5, 6.9), (5.7, 11.6)]
factor_count = [(6.2, 37.6), (7.0, 39.0), (8.0, 41.6), (8.5, 45.3), (9.4, 47.6), (10.3, 48.3), (11.2, 47.6),
                (12.2, 48.0), (13.1, 46.3), (14.0, 43.6), (15.0, 43.0), (15.9, 43.6), (16.8, 41.0), (17.3, 38.3),
                (18.6, 37.6), (19.6, 37.0), (20.5, 38.0), (21.4, 38.6), (22.1, 38.0), (22.8, 35.0),
                (23.3, 34.3), (24.2, 36.3), (25.1, 39.0), (26.0, 41.0), (26.9, 43.6), (27.9, 43.6),
                (28.8, 43.0), (29.7, 43.6), (30.7, 45.6), (31.6, 47.3), (32.5, 47.0), (33.4, 46.3),
                (34.3, 43.6), (35.3, 42.3), (36.2, 43.0), (37.1, 44.3), (38.0, 45.0), (38.9, 46.0),
                (39.9, 45.3), (40.8, 46.0), (41.7, 47.6), (42.6, 51.0), (43.5, 54.0), (44.4, 53.0),
                (45.4, 53.0), (46.3, 52.0), (47.3, 51.0), (48.2, 50.0), (49.1, 49.0), (50.0, 49.3),
                (50.9, 48.3), (51.9, 49.6), (52.8, 51.3), (53.7, 51.0), (54.7, 52.0), (55.2, 52.3),
                (56.0, 49.3), (56.9, 48.3), (57.4, 46.3), (58.3, 44.3), (59.2, 41.0), (59.7, 39.6),
                (60.6, 34.3), (61.6, 35.0), (62.5, 33.0), (63.4, 31.6), (63.9, 29.6), (64.8, 29.0),
                (65.3, 27.6), (66.2, 29.0), (66.6, 27.3), (67.6, 29.6), (68.5, 29.0), (69.4, 35.0),
                (70.3, 34.3), (71.3, 32.3), (72.2, 31.6), (73.1, 31.0), (74.0, 31.6), (74.9, 32.3),
                (75.9, 33.0), (76.8, 32.3), (77.7, 29.6), (78.6, 28.3), (79.6, 25.6), (80.5, 26.3),
                (81.4, 27.0), (82.3, 28.3), (82.8, 29.6), (83.7, 29.0), (84.1, 31.6), (85.1, 33.6),
                (85.6, 36.3), (86.0, 41.0), (86.9, 46.3), (87.9, 52.3), (88.8, 58.3), (89.7, 62.0),
                (90.6, 62.6), (91.1, 61.6), (92.0, 60.3), (92.5, 59.6), (93.4, 56.3), (94.3, 53.6),
                (95.3, 49.0), (95.7, 46.3), (96.6, 40.3), (97.1, 33.6), (98.0, 32.3), (98.9, 31.6),
                (99.9, 32.6), (100.8, 33.3), (101.3, 30.3), (102.2, 28.0), (102.7, 25.0), (103.6, 25.6),
                (104.5, 26.0), (105.0, 24.6), (105.9, 23.0), (106.4, 21.3)]

# ---------------- colours ----------------
c_est = "#1b1b1b"
c_a = "#c4502c"
c_b = "#e6b400"
c_c = "#2b55c0"
c_red = "#d23a1e"
c_navy = "#1c2566"
c_dot_red = "#c0301c"
c_left = "#2d4fb3"
c_right = "#d2691e"

fig = plt.figure(figsize=(10.87, 10.81), dpi=100)


def style_axes(ax, size):
    ax.spines["top"].set_visible(False)
    ax.spines["right"].set_visible(False)
    ax.tick_params(direction="in", labelsize=size, length=4, width=0.8)
    for s in ax.spines.values():
        s.set_linewidth(0.8)


# --- top ---
ax1 = fig.add_axes([0.2318, 0.4958, 0.5998, 0.4695])
for truth, col in [(truth_b, c_b), (truth_c, c_c), (truth_a, c_a)]:
    t, v = np.array(truth).T
    ax1.plot(t, v, color=col, lw=1.3, zorder=2, solid_joinstyle="round")
for est in [est_b, est_c, est_a]:
    t, v = np.array(est).T
    ax1.plot(t, v, color=c_est, lw=1.7, zorder=3, solid_joinstyle="round")
ax1.set_xlim(0, 120)
ax1.set_ylim(-3, 4)
ax1.set_xticks(range(0, 121, 20))
ax1.set_yticks(range(-3, 5))
style_axes(ax1, 14)
ax1.tick_params(length=5)
ax1.tick_params(axis="x", pad=9)
ax1.tick_params(axis="y", pad=6)
ax1.set_xlabel("Scenario Time [s]", fontsize=15, labelpad=6)
ax1.set_ylabel("[m]", fontsize=14, labelpad=6)
fig.text(549 / 1087, 1 - 20 / 1081, "Position Estimator Tracking", ha="center", va="center",
         fontsize=13.5, fontweight="bold")

# --- bottom left ---
ax2 = fig.add_axes([0.0589, 0.0416, 0.413, 0.3238])
ex, ey = np.array(traj_est).T
tx, ty = np.array(traj_truth).T
ax2.plot(tx, ty, color=c_red, lw=1.0, zorder=2, solid_joinstyle="round")
ax2.plot(ex, ey, color=c_est, lw=1.3, zorder=3, solid_joinstyle="round")
ax2.plot(*start_est, "o", color="#111111", ms=7, zorder=5)
ax2.plot(*start_mid, "o", color="#1c2a6c", ms=7, zorder=5)
ax2.plot(*start_truth, "o", color="#b8281a", ms=7, zorder=5)
ax2.set_xlim(-2, 4)
ax2.set_ylim(-3, 2)
ax2.set_xticks(range(-2, 5))
ax2.set_yticks(np.arange(-3, 2.01, 0.5))
ax2.set_yticklabels(["-3", "-2.5", "-2", "-1.5", "-1", "-0.5", "0", "0.5", "1", "1.5", "2"])
style_axes(ax2, 10.5)
ax2.tick_params(axis="x", pad=6)
ax2.set_xlabel("Y (Left) [m]", fontsize=11, labelpad=4)
ax2.set_ylabel("X (Forward) [m]", fontsize=11, labelpad=4)
fig.text(267 / 1087, 1 - 675 / 1081, "Overhead Trajectory Estimate", ha="center", va="center",
         fontsize=9.5, fontweight="bold")

# --- bottom right ---
ax3 = fig.add_axes([0.5704, 0.0398, 0.3956, 0.3238])
ut, uv = np.array(update_time).T
ax3.scatter(ut, uv, s=8, color=c_navy, linewidths=0, zorder=3)
ax3.set_xlim(0, 120)
ax3.set_ylim(0, 1)
ax3.set_xticks(range(0, 121, 20))
ax3.set_yticks(np.arange(0, 1.01, 0.1))
ax3.set_yticklabels(["0", "0.1", "0.2", "0.3", "0.4", "0.5", "0.6", "0.7", "0.8", "0.9", "1"])
ax3.spines["top"].set_visible(False)
ax3.tick_params(direction="in", labelsize=10.5, length=4, width=0.8)
ax3.tick_params(axis="x", pad=9)
ax3.tick_params(axis="y", colors=c_left)
ax3.spines["left"].set_color(c_left)
ax3.spines["right"].set_visible(False)
ax3.set_xlabel("Scenario Time [s]", fontsize=11, labelpad=2)
ax3.set_ylabel("iSAM2 Update Time [s]", fontsize=11, color=c_left, labelpad=4)

ax4 = ax3.twinx()
for seg in (factor_start, factor_count):
    ft, fv = np.array(seg).T
    ax4.plot(ft, fv, color=c_dot_red, lw=2.4, linestyle=(0, (0.05, 1.1)), dash_capstyle="round", zorder=3)
jt, jv = np.array(factor_jump).T
ax4.scatter(jt, jv, s=7, color=c_dot_red, linewidths=0, zorder=3)
ax4.set_ylim(0, 70)
ax4.set_yticks(range(0, 71, 10))
ax4.spines["top"].set_visible(False)
ax4.spines["left"].set_visible(False)
ax4.spines["right"].set_color(c_right)
ax4.tick_params(direction="in", labelsize=10.5, length=4, width=0.8, colors=c_right)
fig.text(822 / 1087, 1 - 676 / 1081, "Solver Performance", ha="center", va="center",
         fontsize=9.5, fontweight="bold")

fig.savefig("out.png", dpi=100)
